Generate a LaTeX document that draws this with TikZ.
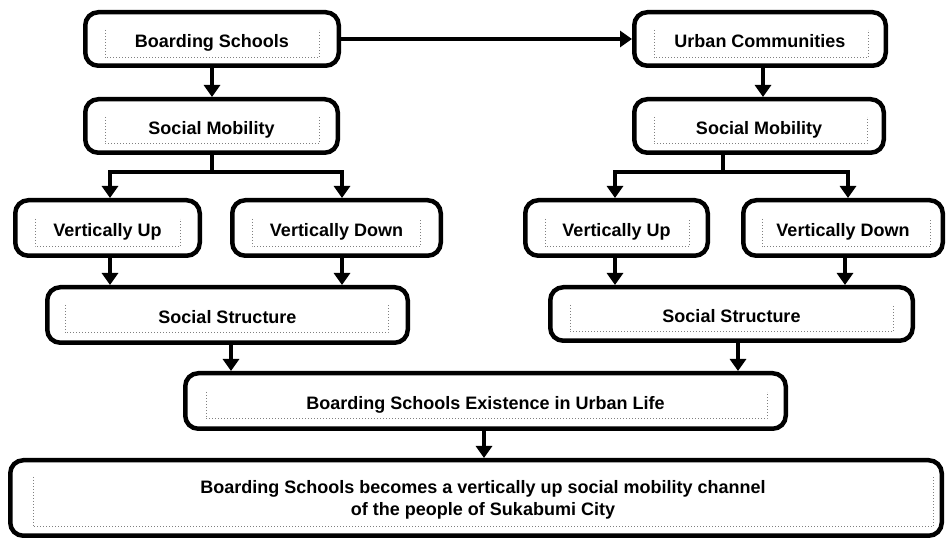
\documentclass[tikz,border=0pt]{standalone}
\usepackage{fontspec}
\setmainfont{Liberation Sans}
\usetikzlibrary{arrows.meta}

% dotted guide frame inside a box: open at the top
% #1 node name, #2 left inset, #3 right inset, #4 top inset, #5 bottom inset
\newcommand{\dotbracket}[5]{%
  \draw[guide] ([xshift=#2,yshift=-#4]#1.north west)
    -- ([xshift=#2,yshift=#5]#1.south west)
    -- ([xshift=-#3,yshift=#5]#1.south east)
    -- ([xshift=-#3,yshift=-#4]#1.north east);}

\begin{document}
\begin{tikzpicture}[x=1pt,y=1pt,
  box/.style={draw=black, line width=4.5pt, rounded corners=13pt, fill=white,
    inner sep=0pt, outer sep=2.25pt,
    font=\fontsize{18}{22}\selectfont\bfseries, text height=17pt, text depth=0pt},
  flow/.style={line width=4pt, -{Triangle[width=16pt,length=12pt]}},
  link/.style={line width=4pt},
  guide/.style={draw=gray, line width=1pt, dotted},
  caption/.style={font=\fontsize{18}{22}\selectfont\bfseries, align=center, inner sep=0pt}]
\useasboundingbox (0,0) rectangle (946,541);

% top row
\node[box, minimum width=253.5pt, minimum height=53.5pt] (BS)  at (212,502)   {Boarding Schools};
\node[box, minimum width=251.5pt, minimum height=53.5pt] (UC)  at (760,502)   {Urban Communities};
% social mobility
\node[box, minimum width=252.5pt, minimum height=53.5pt] (SML) at (211.5,415) {Social Mobility};
\node[box, minimum width=249.5pt, minimum height=53.5pt] (SMR) at (759,415)   {Social Mobility};
% vertical mobility
\node[box, minimum width=184.5pt, minimum height=55.5pt] (VUL) at (107.5,313) {Vertically Up};
\node[box, minimum width=208.5pt, minimum height=55.5pt] (VDL) at (336.5,313) {Vertically Down};
\node[box, minimum width=182.5pt, minimum height=55.5pt] (VUR) at (616.5,313) {Vertically Up};
\node[box, minimum width=199.5pt, minimum height=55.5pt] (VDR) at (843,313)   {Vertically Down};
% social structure
\node[box, minimum width=360.5pt, minimum height=55.5pt] (SSL) at (227.5,226) {Social Structure};
\node[box, minimum width=362.5pt, minimum height=53.5pt] (SSR) at (731.5,227) {Social Structure};
% existence and conclusion
\node[box, minimum width=600.5pt, minimum height=55.5pt] (EX)  at (485.5,140) {Boarding Schools Existence in Urban Life};
\node[box, minimum width=931.5pt, minimum height=75.5pt] (BOT) at (476,43)    {};
\node[caption] (BOTtext) at (483,41)
  {Boarding Schools becomes a vertically up social mobility channel\\of the people of Sukabumi City};

% dotted guide frames
\dotbracket{BS}{22pt}{22pt}{20pt}{10pt}
\dotbracket{UC}{22pt}{20pt}{20pt}{10pt}
\dotbracket{SML}{22pt}{21pt}{20pt}{11pt}
\dotbracket{SMR}{22pt}{19pt}{20pt}{11pt}
\dotbracket{VUL}{22pt}{22pt}{21pt}{11pt}
\dotbracket{VDL}{22pt}{23pt}{21pt}{11pt}
\dotbracket{VUR}{22pt}{21pt}{21pt}{11pt}
\dotbracket{VDR}{21pt}{15pt}{21pt}{11pt}
\dotbracket{SSL}{20pt}{22pt}{20pt}{12pt}
\dotbracket{SSR}{22pt}{22pt}{20pt}{11pt}
\dotbracket{EX}{23pt}{21pt}{21pt}{12pt}
\dotbracket{BOT}{25pt}{11pt}{19pt}{11pt}

% connectors
\draw[flow] (BS.east) -- (UC.west);
\draw[flow] (BS.south) -- (BS.south |- SML.north);
\draw[flow] ([xshift=3pt]UC.south) -- ([xshift=3pt]UC.south |- SMR.north);

\coordinate (jl) at ([yshift=-17pt]SML.south);
\draw[link] (SML.south) -- (jl);
\draw[flow] (jl) -| ([xshift=2.5pt]VUL.north);
\draw[flow] (jl) -| ([xshift=5.5pt]VDL.north);

\coordinate (jr) at ([xshift=-36pt,yshift=-17pt]SMR.south);
\draw[link] ([xshift=-36pt]SMR.south) -- (jr);
\draw[flow] (jr) -| ([xshift=-1.5pt]VUR.north);
\draw[flow] (jr) -| ([xshift=5pt]VDR.north);

\draw[flow] ([xshift=2.5pt]VUL.south) -- ([xshift=2.5pt]VUL.south |- SSL.north);
\draw[flow] ([xshift=5.5pt]VDL.south) -- ([xshift=5.5pt]VDL.south |- SSL.north);
\draw[flow] ([xshift=-1.5pt]VUR.south) -- ([xshift=-1.5pt]VUR.south |- SSR.north);
\draw[flow] ([xshift=2pt]VDR.south) -- ([xshift=2pt]VDR.south |- SSR.north);

\draw[flow] ([xshift=3.5pt]SSL.south) -- ([xshift=3.5pt]SSL.south |- EX.north);
\draw[flow] ([xshift=6.5pt]SSR.south) -- ([xshift=6.5pt]SSR.south |- EX.north);
\draw[flow] ([xshift=-1.5pt]EX.south) -- ([xshift=-1.5pt]EX.south |- BOT.north);
\end{tikzpicture}
\end{document}
